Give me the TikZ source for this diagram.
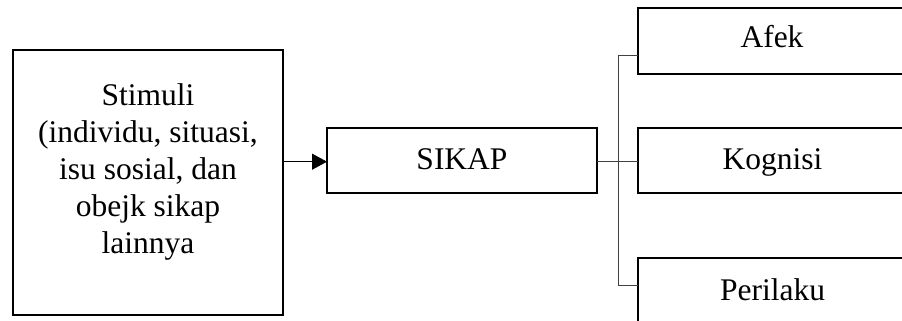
\documentclass[tikz,border=0pt]{standalone}
\usepackage{fontspec}
\setmainfont{Liberation Serif}
\usetikzlibrary{arrows.meta}
\begin{document}
\begin{tikzpicture}[x=1pt,y=-1pt,
  box/.style={draw=black, line width=2.2pt},
  lbl/.style={font=\fontsize{31.5}{37}\selectfont, align=center, inner sep=0pt},
  bus/.style={draw=black!75, line width=1pt},
  feed/.style={draw=black, line width=1.1pt, -{Triangle[length=15pt,width=16pt]}}]
\useasboundingbox (0,0) rectangle (902,321);
\begin{scope}
\clip (0,0) rectangle (902,321);
% boxes and their labels
\draw[box] (13,50) rectangle (283,315);
\node[lbl] (stim) at (148,171.7) {Stimuli\\(individu, situasi,\\isu sosial, dan\\obejk sikap\\lainnya};
\draw[box] (327,128) rectangle (597,193);
\node[lbl, anchor=base] (sikap) at (462,169.3) {SIKAP};
\draw[box] (638,8) rectangle (908,74);
\node[lbl, anchor=base] (afek) at (772,47.7) {Afek};
\draw[box] (638,128) rectangle (908,193);
\node[lbl, anchor=base] (kog) at (772.5,169.3) {Kognisi};
\draw[box] (638,258) rectangle (908,324);
\node[lbl, anchor=base] (peri) at (772.5,300) {Perilaku};
% connector ends
\coordinate (stimR) at (283,161.7);
\coordinate (sikapL) at (327,161.7);
\coordinate (sikapR) at (597,161);
\coordinate (busT) at (618,56);
\coordinate (busB) at (618,285);
\coordinate (afekL) at (638,56);
\coordinate (kogL) at (638,161);
\coordinate (periL) at (638,285);
% connectors
\draw[feed] (stimR) -- (sikapL);
\draw[bus] (afekL) -- (busT) -- (busB) -- (periL);
\draw[bus] (sikapR) -- (kogL);
\end{scope}
\end{tikzpicture}
\end{document}
